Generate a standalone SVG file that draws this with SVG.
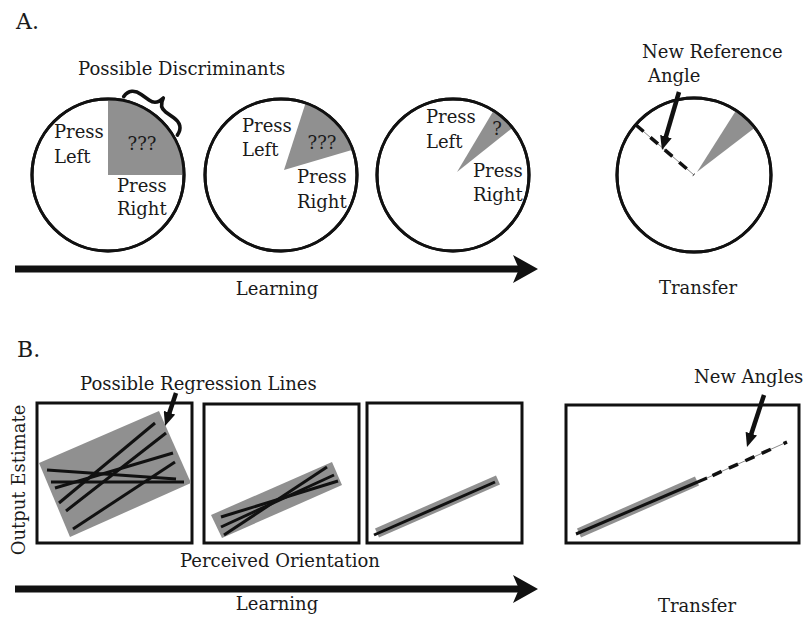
<svg xmlns="http://www.w3.org/2000/svg" width="803" height="618" viewBox="0 0 803 618">
  <style>
    text { font-family: "DejaVu Serif", "Liberation Serif", serif; font-size: 18px; fill: #1a1a1a; }
    .panel { font-size: 22px; }
    .ring { fill: #fff; stroke: #111; stroke-width: 3; }
    .frame { fill: #fff; stroke: #111; stroke-width: 3; }
    .shade { fill: #909090; stroke: none; }
    .band { stroke: #909090; stroke-linecap: butt; fill: none; }
    .fit { stroke: #111; stroke-width: 3; fill: none; }
    .ptr { stroke: #111; stroke-width: 4.5; fill: none; }
    .axis { stroke: #111; stroke-width: 7; fill: none; }
    .guide { stroke: #8a8a8a; stroke-width: 1; fill: none; }
    .dash { stroke: #111; stroke-width: 3.5; fill: none; }
  </style>
  <defs>
    <marker id="head" viewBox="0 0 14 12" markerWidth="14" markerHeight="12" refX="4" refY="6" orient="auto" markerUnits="userSpaceOnUse">
      <path d="M0,0 L14,6 L0,12 Z" fill="#111"/>
    </marker>
  </defs>

  <!-- panel labels -->
  <text class="panel" x="16" y="29">A.</text>
  <text class="panel" x="17" y="357">B.</text>

  <!-- A: discrimination circles -->
  <g id="circle-1">
    <circle class="ring" cx="108" cy="175" r="76"/>
    <path class="shade" d="M108,175 L108,99 A76,76 0 0,1 184,175 Z"/>
    <circle cx="108" cy="175" r="76" fill="none" stroke="#111" stroke-width="3"/>
    <text x="54" y="138">Press</text>
    <text x="54" y="163">Left</text>
    <text x="142" y="150" text-anchor="middle">???</text>
    <text x="117" y="192">Press</text>
    <text x="117" y="215">Right</text>
  </g>
  <g id="discriminants-label">
    <text x="78" y="75">Possible Discriminants</text>
    <!-- curly brace bent over the shaded quadrant -->
    <path d="M-33,6 C-33,-2 -28,-6 -20,-6 L-10,-6 C-4,-6 -1,-10 0,-16 C1,-10 4,-6 10,-6 L20,-6 C28,-6 33,-2 33,6" transform="translate(154,111) rotate(35.6)" fill="none" stroke="#111" stroke-width="3.6" stroke-linecap="round" stroke-linejoin="round"/>
  </g>

  <g id="circle-2">
    <circle class="ring" cx="281" cy="175" r="76"/>
    <path class="shade" d="M284,170 L305.6,103.1 A76,76 0 0,1 352.7,149.8 Z"/>
    <circle cx="281" cy="175" r="76" fill="none" stroke="#111" stroke-width="3"/>
    <text x="242" y="132">Press</text>
    <text x="242" y="156">Left</text>
    <text x="322" y="149" text-anchor="middle">???</text>
    <text x="297" y="183">Press</text>
    <text x="297" y="208">Right</text>
  </g>

  <g id="circle-3">
    <circle class="ring" cx="453" cy="175" r="76"/>
    <path class="shade" d="M457,172 L493.5,110.7 A76,76 0 0,1 512.6,127.8 Z"/>
    <circle cx="453" cy="175" r="76" fill="none" stroke="#111" stroke-width="3"/>
    <text x="426" y="123">Press</text>
    <text x="426" y="148">Left</text>
    <text x="497" y="135" text-anchor="middle">?</text>
    <text x="473" y="177">Press</text>
    <text x="473" y="201">Right</text>
  </g>

  <g id="circle-transfer">
    <circle class="ring" cx="694" cy="175" r="77"/>
    <path class="shade" d="M697,172 L736,110.4 A77,77 0 0,1 754.8,127.8 Z"/>
    <circle cx="694" cy="175" r="77" fill="none" stroke="#111" stroke-width="3"/>
    <line class="guide" x1="636" y1="125" x2="694" y2="175"/>
    <line class="dash" x1="636" y1="125" x2="694" y2="175" stroke-dasharray="10 9"/>
    <text x="642" y="58">New Reference</text>
    <text x="648" y="82">Angle</text>
    <text x="698" y="294" text-anchor="middle">Transfer</text>
  </g>

  <!-- B: regression panels -->
  <g id="panel-1">
    <rect class="frame" x="37" y="403" width="155" height="140"/>
    <polygon class="shade" points="39,463 159,411 191,483 70,537"/>
    <line class="fit" x1="155" y1="423" x2="59" y2="503"/>
    <line class="fit" x1="166" y1="433" x2="66" y2="511"/>
    <line class="fit" x1="173" y1="453" x2="55" y2="488"/>
    <line class="fit" x1="47" y1="470" x2="176" y2="479"/>
    <line class="fit" x1="51" y1="482" x2="184" y2="482"/>
    <line class="fit" x1="175" y1="462" x2="73" y2="529"/>
    <text x="80" y="390">Possible Regression Lines</text>
    <text x="25" y="480" text-anchor="middle" transform="rotate(-90 25 480)">Output Estimate</text>
  </g>

  <g id="panel-2">
    <rect class="frame" x="204" y="404" width="155" height="139"/>
    <polygon class="shade" points="211,515 332,462 342,485 222,538"/>
    <line class="fit" x1="224" y1="535" x2="327" y2="467"/>
    <line class="fit" x1="221" y1="527" x2="334" y2="475"/>
    <line class="fit" x1="221" y1="517" x2="338" y2="481"/>
    <text x="280" y="567" text-anchor="middle">Perceived Orientation</text>
  </g>

  <g id="panel-3">
    <rect class="frame" x="367" y="403" width="155" height="140"/>
    <line class="band" x1="377" y1="533" x2="498" y2="480" stroke-width="10"/>
    <line class="fit" x1="374" y1="535" x2="495" y2="482"/>
  </g>

  <g id="panel-transfer">
    <rect class="frame" x="566" y="405" width="233" height="138"/>
    <line class="band" x1="579" y1="533" x2="697" y2="481" stroke-width="10"/>
    <line class="fit" x1="576" y1="534" x2="707" y2="478"/>
    <line class="guide" x1="707" y1="478" x2="787" y2="442"/>
    <line class="dash" x1="707" y1="478" x2="787" y2="442" stroke-dasharray="0 6 10 8 10 8 10 8 10 8"/>
    <text x="694" y="383">New Angles</text>
    <text x="697" y="612" text-anchor="middle">Transfer</text>
  </g>

  <!-- connectors: timeline arrows and pointers -->
  <g id="connectors">
    <line class="axis" x1="15" y1="269" x2="520" y2="269"/>
    <path d="M538,269 L513,255 L519,269 L513,283 Z" fill="#111"/>
    <text x="277" y="295" text-anchor="middle">Learning</text>

    <line class="axis" x1="15" y1="589" x2="520" y2="589"/>
    <path d="M538,589 L513,575 L519,589 L513,603 Z" fill="#111"/>
    <text x="277" y="610" text-anchor="middle">Learning</text>

    <line class="ptr" x1="176" y1="393" x2="168.2" y2="416.5" marker-end="url(#head)"/>
    <line class="ptr" x1="679" y1="92" x2="664.8" y2="140.4" marker-end="url(#head)"/>
    <line class="ptr" x1="764" y1="395" x2="750.1" y2="437.5" marker-end="url(#head)"/>
  </g>
</svg>
